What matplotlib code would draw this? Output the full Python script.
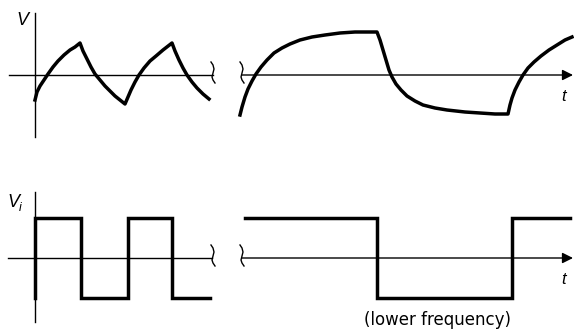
import matplotlib
matplotlib.use("Agg")
import matplotlib.pyplot as plt

# ---- data (pixel-space readings of the schematic) ----
# top panel, high-frequency output (left)
top_left_x = [35, 37, 40, 44, 48, 53, 58, 64, 70, 75, 80,
              83, 87, 91, 95, 100, 105, 110, 115, 120, 125,
              128, 131, 135, 139, 144, 150, 156, 163, 172,
              175, 179, 183, 187, 192, 197, 203, 209]
top_left_y = [100, 92, 86, 80, 74, 67, 61, 55, 50, 47, 43,
              51, 59, 67, 74, 80, 86, 91, 96, 100, 104,
              97, 90, 82, 75, 68, 61, 56, 50, 43,
              51, 60, 68, 75, 82, 88, 94, 99]
# top panel, lower-frequency output (right)
top_right_x = [240, 242, 245, 248, 252, 256, 261, 267, 274, 282, 290, 300, 312, 325, 340, 355, 377,
               380, 383, 386, 389, 392, 396, 401, 407, 415, 423, 435, 447, 465, 480, 495, 508,
               510, 512, 515, 519, 523, 528, 534, 541, 549, 557, 565, 572]
top_right_y = [115, 107, 97, 89, 81, 74, 67, 60, 53, 48, 44, 40, 37, 35, 33, 32, 32,
               40, 50, 60, 70, 77, 84, 90, 96, 101, 105, 108, 110, 112, 113, 114, 114,
               105, 98, 90, 82, 75, 68, 62, 56, 50, 45, 40, 37]
# bottom panel, square wave input
sq_high, sq_low = 218, 298
sq_left_x = [35, 35, 81, 81, 128, 128, 172, 172, 210]
sq_left_level = ["low", "high", "high", "low", "low", "high", "high", "low", "low"]
sq_right_x = [245, 377, 377, 512, 512, 570]
sq_right_level = ["high", "high", "low", "low", "high", "high"]

# axes baselines
top_axis_y, bot_axis_y = 75, 258
left_axis_x = 35

# break mark shape (offsets)
brk_dx = [-2, 0, 1, 0, -1, 0, 2]
brk_dy = [-13, -10, -6, -2, 2, 5, 8]

W, H = 574, 329
fig = plt.figure(figsize=(W / 100, H / 100), dpi=100)
ax = fig.add_axes([0, 0, 1, 1])
ax.set_xlim(0, W)
ax.set_ylim(H, 0)
ax.axis("off")

thin = 1.0
thick = 2.5

# axes lines
ax.plot([left_axis_x, left_axis_x], [13, 137], color="black", lw=thin)
ax.plot([left_axis_x, left_axis_x], [192, 322], color="black", lw=thin)
ax.plot([9, 213], [top_axis_y, top_axis_y], color="black", lw=thin)
ax.plot([8, 212], [bot_axis_y, bot_axis_y], color="black", lw=thin)
for yy in (top_axis_y, bot_axis_y):
    ax.annotate("", xy=(573, yy), xytext=(242, yy),
                arrowprops=dict(arrowstyle="-|>", lw=thin, color="black",
                                mutation_scale=16, shrinkA=0, shrinkB=0))
    for bx in (213, 242):
        ax.plot([bx + d for d in brk_dx], [yy + d for d in brk_dy],
                color="black", lw=1.0)

# waveforms
ax.plot(top_left_x, top_left_y, color="black", lw=thick, solid_joinstyle="round")
ax.plot(top_right_x, top_right_y, color="black", lw=thick, solid_joinstyle="round")
lv = {"high": sq_high, "low": sq_low}
ax.plot(sq_left_x, [lv[l] for l in sq_left_level], color="black", lw=thick,
        solid_joinstyle="miter")
ax.plot(sq_right_x, [lv[l] for l in sq_right_level], color="black", lw=thick,
        solid_joinstyle="miter")

# labels
fam = ["Liberation Sans", "DejaVu Sans"]
ax.text(16, 25, "V", fontsize=13, style="italic", family=fam, ha="left", va="baseline")
ax.text(7, 207, "V", fontsize=13, style="italic", family=fam, ha="left", va="baseline")
ax.text(19, 211, "i", fontsize=9, style="italic", family=fam, ha="left", va="baseline")
ax.text(561, 101, "t", fontsize=12, style="italic", family=fam, ha="left", va="baseline")
ax.text(561, 284, "t", fontsize=12, style="italic", family=fam, ha="left", va="baseline")
ax.text(437, 325, "(lower frequency)", fontsize=12, family=["DejaVu Sans"],
        ha="center", va="baseline")

fig.savefig("out.png", dpi=100)
